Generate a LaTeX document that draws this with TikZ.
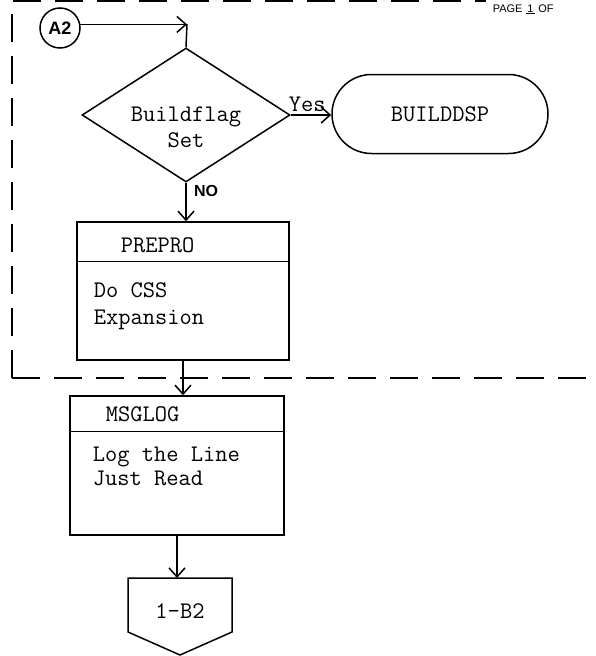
\documentclass[tikz,border=0pt]{standalone}
\usepackage{fontspec}
\usepackage{tikz}
\usetikzlibrary{shapes,arrows,arrows.meta,shapes.geometric,shapes.misc}
\newfontfamily\flowsans{Liberation Sans}

\begin{document}
\begin{tikzpicture}[x=1pt, y=-1pt, line width=1.5pt,
    flowtext/.style={font=\ttfamily\fontsize{23.8}{26}\selectfont, inner sep=0pt},
    handtext/.style={font=\flowsans\bfseries\fontsize{18}{20}\selectfont, inner sep=0pt},
    connector/.style={circle, draw, minimum size=40pt, inner sep=0pt, handtext},
    decision/.style={diamond, draw, minimum width=208pt, minimum height=134pt, inner sep=0pt},
    terminal/.style={rounded rectangle, draw, minimum width=216pt, minimum height=79pt, flowtext},
    procbox/.style={rectangle, draw, inner sep=0pt},
    flow/.style={-{Straight Barb[length=9pt, width=16pt]}},
    border/.style={line width=1.1pt, dash pattern=on 28pt off 14pt}
]
\useasboundingbox (0,0) rectangle (596,656);

% Page frame - dashed, open at the right
\draw[border] (12,378) -- (12,1) -- (486,1);
\draw[border] (12,378) -- (596,378);
\node[font=\flowsans\fontsize{11}{11}\selectfont, anchor=base west, inner sep=0pt] (pagemark) at (492,12) {PAGE \underline{\,1\,} OF};

% Entry connector
\node[connector] (A2) at (60,28) {A2};
\coordinate (join) at (187,24);

% Decision
\node[decision] (dec) at (186,115) {};
\node[flowtext, align=center] (dectext) at (186,127) {Buildflag\\Set};

% Terminal on the Yes branch
\node[terminal] (builddsp) at (440,114) {BUILDDSP};

% Process boxes with header strip
\node[procbox, minimum width=212pt, minimum height=138pt] (prepro) at (183,291) {};
\draw (prepro.north west) ++(0,40) -- ++(212,0);
\node[flowtext, anchor=west] (preproname) at (120,245) {PREPRO};
\node[flowtext, anchor=west, align=left, font=\ttfamily\fontsize{23.8}{27}\selectfont] (preprotext) at (93,306) {Do CSS\\Expansion};

\node[procbox, minimum width=214pt, minimum height=139pt] (msglog) at (177,465.5) {};
\draw (msglog.north west) ++(0,36) -- ++(214,0);
\node[flowtext, anchor=west] (msglogname) at (105,414) {MSGLOG};
\node[flowtext, anchor=west, align=left, font=\ttfamily\fontsize{23.8}{24}\selectfont] (msglogtext) at (92,466) {Log the Line\\Just Read};

% Off-page connector
\coordinate (ptop) at (180,578);
\draw (128,578) -- (232,578) -- (232,632) -- (180,655) -- (128,632) -- cycle;
\node[flowtext] (offpage) at (180,611) {1-B2};

% Flow lines
\draw[flow] (A2.10) -- (A2.10 -| join);
\draw (join) -- (dec.north);
\draw[flow] (dec.east) -- (dec.east -| builddsp.west);
\node[flowtext, anchor=south west] (yes) at (288,112) {Yes};
\draw[flow] (dec.south) -- (dec.south |- prepro.north);
\node[handtext, font=\flowsans\bfseries\fontsize{16}{18}\selectfont] (no) at (206,191) {NO};
\draw[flow] (prepro.south) -- (prepro.south |- msglog.north);
\draw[flow] (msglog.south) -- (msglog.south |- ptop);

\end{tikzpicture}
\end{document}
